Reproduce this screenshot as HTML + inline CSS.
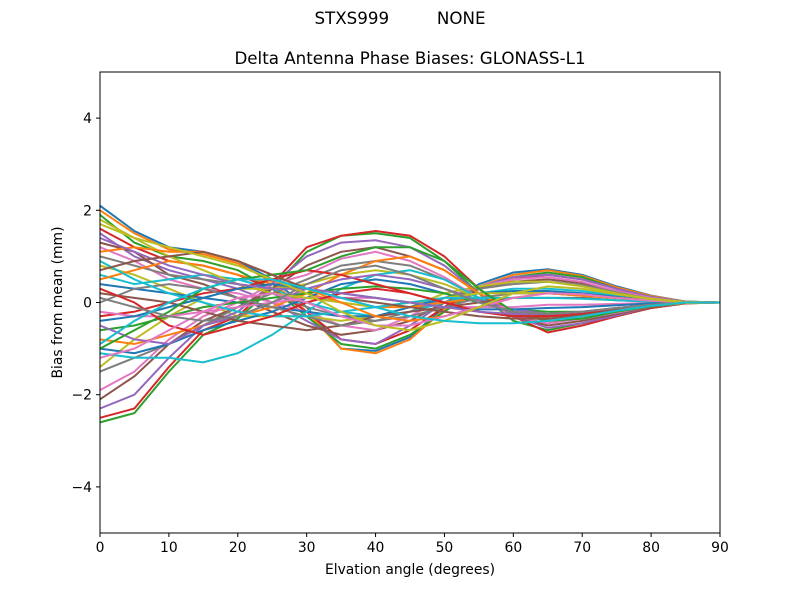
<!DOCTYPE html>
<html><head><meta charset="utf-8"><style>
body{margin:0;background:#fff;}
svg{display:block;font-family:"DejaVu Sans","Liberation Sans",sans-serif;}
</style></head><body>
<svg id="chart" width="800" height="600">
<rect x="0" y="0" width="800" height="600" fill="#fff"/>
<text x="400" y="24" text-anchor="middle" font-size="16.7" xml:space="preserve">STXS999         NONE</text>
<text x="410" y="64" text-anchor="middle" font-size="16.7">Delta Antenna Phase Biases: GLONASS-L1</text>
<g id="series"></g>
<g id="axes"></g>
<text x="410" y="574" text-anchor="middle" font-size="13.9">Elvation angle (degrees)</text>
<text transform="translate(62,302.5) rotate(-90)" text-anchor="middle" font-size="13.9">Bias from mean (mm)</text>
</svg>
<script>
const elevations=[0,5,10,15,20,25,30,35,40,45,50,55,60,65,70,75,80,85,90];
const xTicks=[0,10,20,30,40,50,60,70,80,90];
const yTicks=[-4,-2,0,2,4];
const yTickLabels=["\u22124","\u22122","0","2","4"];
const s01=[2.1,1.55,1.2,1.1,0.9,0.5,-0.1,-1.0,-1.05,-0.75,-0.1,0.4,0.65,0.72,0.6,0.35,0.15,0.02,0];
const s02=[2.0,1.5,1.15,1.05,0.85,0.45,-0.2,-1.0,-1.1,-0.8,-0.15,0.35,0.6,0.7,0.58,0.33,0.14,0.02,0];
const s03=[1.9,1.3,1.0,0.9,0.7,0.3,-0.3,-0.9,-1.0,-0.7,-0.2,0.3,0.55,0.65,0.55,0.3,0.12,0.02,0];
const s04=[1.6,1.2,0.9,0.8,0.6,0.3,-0.2,-0.8,-0.9,-0.6,-0.1,0.3,0.5,0.6,0.5,0.3,0.1,0.01,0];
const s05=[1.5,1.0,0.7,0.5,0.3,0.0,-0.4,-0.8,-0.9,-0.5,0.0,0.35,0.55,0.6,0.5,0.3,0.12,0.02,0];
const s06=[1.3,1.1,0.6,0.4,0.1,-0.2,-0.5,-0.7,-0.6,-0.4,0.0,0.3,0.45,0.5,0.42,0.25,0.1,0.01,0];
const s07=[1.2,0.9,0.5,0.3,0.2,0.0,-0.2,-0.5,-0.6,-0.3,0.1,0.35,0.5,0.55,0.45,0.25,0.1,0.01,0];
const s08=[1.0,0.8,0.6,0.5,0.4,0.2,-0.1,-0.3,-0.4,-0.2,0.1,0.3,0.4,0.45,0.38,0.22,0.08,0.01,0];
const s09=[0.8,0.6,0.3,0.0,-0.3,-0.3,-0.3,-0.4,-0.3,-0.1,0.2,0.35,0.45,0.45,0.35,0.2,0.08,0.01,0];
const s10=[0.6,0.4,0.5,0.6,0.5,0.3,0.0,-0.2,-0.3,-0.2,0.0,0.2,0.3,0.3,0.25,0.15,0.05,0,0];
const s11=[0.4,0.3,0.2,0.1,0.0,-0.1,-0.2,-0.3,-0.3,-0.1,0.1,0.2,0.25,0.25,0.2,0.12,0.05,0,0];
const s12=[0.5,0.7,0.9,0.8,0.6,0.4,0.2,0.0,-0.1,-0.1,0.0,0.1,0.2,0.2,0.15,0.1,0.04,0,0];
const s13=[-2.6,-2.4,-1.5,-0.7,-0.35,0.3,1.1,1.45,1.5,1.4,0.9,0.2,-0.4,-0.6,-0.45,-0.3,-0.12,-0.02,0];
const s14=[-2.5,-2.3,-1.4,-0.6,-0.3,0.4,1.2,1.45,1.55,1.45,1.0,0.3,-0.3,-0.65,-0.5,-0.3,-0.12,-0.02,0];
const s15=[-2.3,-2.0,-1.2,-0.5,-0.2,0.4,1.0,1.3,1.35,1.2,0.8,0.2,-0.3,-0.55,-0.45,-0.28,-0.1,-0.01,0];
const s16=[-2.1,-1.6,-0.9,-0.4,-0.1,0.3,0.8,1.1,1.2,1.0,0.7,0.2,-0.3,-0.5,-0.4,-0.25,-0.1,-0.01,0];
const s17=[-1.9,-1.5,-0.8,-0.3,0.0,0.4,0.6,0.95,1.1,0.9,0.55,0.1,-0.3,-0.45,-0.35,-0.22,-0.08,-0.01,0];
const s18=[-1.5,-1.2,-0.9,-0.5,-0.1,0.2,0.5,0.8,0.9,0.8,0.5,0.1,-0.25,-0.4,-0.35,-0.2,-0.08,-0.01,0];
const s19=[-1.4,-0.8,-0.3,0.1,0.3,0.3,0.4,0.6,0.7,0.6,0.4,0.1,-0.2,-0.35,-0.3,-0.18,-0.07,-0.01,0];
const s20=[-1.1,-1.2,-1.2,-1.3,-1.1,-0.7,-0.2,0.3,0.6,0.7,0.5,0.1,-0.2,-0.3,-0.25,-0.15,-0.05,0,0];
const s21=[-1.0,-1.1,-0.9,-0.6,-0.4,-0.2,0.1,0.4,0.5,0.4,0.2,0.0,-0.2,-0.3,-0.25,-0.15,-0.05,0,0];
const s22=[-0.8,-0.9,-0.7,-0.5,-0.3,-0.1,0.2,0.6,0.9,1.0,0.7,0.2,-0.2,-0.35,-0.3,-0.18,-0.07,0,0];
const s23=[-0.6,-0.5,-0.3,-0.1,0.0,0.1,0.2,0.3,0.35,0.3,0.2,0.0,-0.15,-0.2,-0.2,-0.12,-0.05,0,0];
const s24=[-0.3,-0.2,0.0,0.2,0.3,0.5,0.7,0.6,0.4,0.2,0.0,-0.2,-0.3,-0.3,-0.25,-0.15,-0.05,0,0];
const s25=[-0.5,-0.8,-0.9,-0.5,-0.3,0.0,0.3,0.5,0.6,0.5,0.3,0.05,-0.15,-0.25,-0.2,-0.12,-0.05,0,0];
const s26=[0.2,0.1,0.0,-0.2,-0.4,-0.5,-0.6,-0.5,-0.3,-0.2,-0.1,0.0,0.1,0.1,0.1,0.05,0.02,0,0];
const s27=[-0.2,-0.3,-0.3,-0.2,-0.1,0.0,0.1,0.1,0.1,0.0,-0.1,-0.1,-0.1,-0.05,-0.05,-0.03,-0.01,0,0];
const s28=[0.0,0.3,0.4,0.3,0.1,-0.1,-0.3,-0.5,-0.4,-0.3,-0.1,0.1,0.2,0.2,0.15,0.1,0.04,0,0];
const s29=[1.7,1.4,1.0,0.7,0.4,0.2,0.1,0.0,-0.1,0.0,0.1,0.2,0.2,0.2,0.15,0.1,0.04,0,0];
const s30=[0.9,0.5,0.2,0.0,-0.2,-0.3,-0.3,-0.2,-0.1,0.0,0.1,0.1,0.1,0.1,0.08,0.05,0.02,0,0];
const s31=[-0.4,-0.3,-0.1,0.1,0.3,0.4,0.3,0.2,0.1,0.0,-0.1,-0.15,-0.15,-0.12,-0.1,-0.06,-0.02,0,0];
const s32=[1.1,1.2,1.1,1.1,0.9,0.6,0.3,0.0,-0.3,-0.4,-0.3,-0.1,0.1,0.2,0.15,0.1,0.04,0,0];
const s33=[-1.0,-0.6,-0.2,0.3,0.5,0.6,0.7,1.0,1.2,1.2,0.9,0.3,-0.2,-0.4,-0.35,-0.2,-0.08,0,0];
const s34=[0.3,0.0,-0.5,-0.7,-0.5,-0.3,0.0,0.2,0.3,0.2,0.0,-0.2,-0.3,-0.3,-0.25,-0.15,-0.05,0,0];
const s35=[1.4,1.1,0.8,0.6,0.4,0.3,0.3,0.2,0.1,0.0,-0.1,-0.2,-0.25,-0.25,-0.2,-0.12,-0.05,0,0];
const s36=[0.7,0.9,1.0,1.1,0.9,0.6,0.3,0.1,0.0,-0.1,-0.2,-0.3,-0.35,-0.35,-0.28,-0.16,-0.06,0,0];
const s37=[-1.2,-1.0,-0.6,-0.2,0.1,0.2,0.0,-0.3,-0.5,-0.5,-0.3,-0.1,0.1,0.2,0.18,0.1,0.04,0,0];
const s38=[0.1,-0.1,-0.3,-0.4,-0.3,0.0,0.4,0.7,0.8,0.6,0.3,0.0,-0.2,-0.25,-0.2,-0.12,-0.05,0,0];
const s39=[1.8,1.4,1.2,1.0,0.8,0.5,0.2,-0.2,-0.5,-0.6,-0.4,-0.1,0.2,0.35,0.3,0.18,0.07,0,0];
const s40=[-0.9,-0.4,0.0,0.3,0.5,0.5,0.3,0.1,-0.1,-0.3,-0.4,-0.45,-0.45,-0.4,-0.3,-0.18,-0.07,0,0];
const seriesList=[s01,s02,s03,s04,s05,s06,s07,s08,s09,s10,s11,s12,s13,s14,s15,s16,s17,s18,s19,s20,s21,s22,s23,s24,s25,s26,s27,s28,s29,s30,s31,s32,s33,s34,s35,s36,s37,s38,s39,s40];
const colors=["#1f77b4","#ff7f0e","#2ca02c","#d62728","#9467bd","#8c564b","#e377c2","#7f7f7f","#bcbd22","#17becf"];
const NS="http://www.w3.org/2000/svg";
const X0=100,X1=720,Y0=72,Y1=533;
function xs(v){return X0+(v-0)/(90-0)*(X1-X0);}
function ys(v){return Y1-(v+5)/10*(Y1-Y0);}
const sg=document.getElementById('series');
seriesList.forEach((s,i)=>{
  const p=document.createElementNS(NS,'polyline');
  p.setAttribute('points',s.map((v,j)=>xs(elevations[j]).toFixed(1)+','+ys(v).toFixed(1)).join(' '));
  p.setAttribute('fill','none');
  p.setAttribute('stroke',colors[i%10]);
  p.setAttribute('stroke-width','2');
  
  
  sg.appendChild(p);
});
const ag=document.getElementById('axes');
const frame=document.createElementNS(NS,'rect');
frame.setAttribute('x',X0);frame.setAttribute('y',Y0);frame.setAttribute('width',X1-X0);frame.setAttribute('height',Y1-Y0);
frame.setAttribute('fill','none');frame.setAttribute('stroke','#000');frame.setAttribute('stroke-width','1');


ag.appendChild(frame);
xTicks.forEach(t=>{
  const l=document.createElementNS(NS,'line');
  l.setAttribute('x1',xs(t));l.setAttribute('x2',xs(t));l.setAttribute('y1',Y1);l.setAttribute('y2',Y1+4);l.setAttribute('stroke','#000');
  
  
  ag.appendChild(l);
  const tx=document.createElementNS(NS,'text');
  tx.setAttribute('x',xs(t));tx.setAttribute('y',Y1+19);tx.setAttribute('text-anchor','middle');tx.setAttribute('font-size','13.9');
  tx.textContent=t;
  
  
  ag.appendChild(tx);
});
yTicks.forEach((t,i)=>{
  const l=document.createElementNS(NS,'line');
  l.setAttribute('x1',X0-4);l.setAttribute('x2',X0);l.setAttribute('y1',ys(t));l.setAttribute('y2',ys(t));l.setAttribute('stroke','#000');
  
  
  ag.appendChild(l);
  const tx=document.createElementNS(NS,'text');
  tx.setAttribute('x',X0-8);tx.setAttribute('y',ys(t)+5);tx.setAttribute('text-anchor','end');tx.setAttribute('font-size','13.9');
  tx.textContent=yTickLabels[i];
  
  
  ag.appendChild(tx);
});
</script>
</body></html>
